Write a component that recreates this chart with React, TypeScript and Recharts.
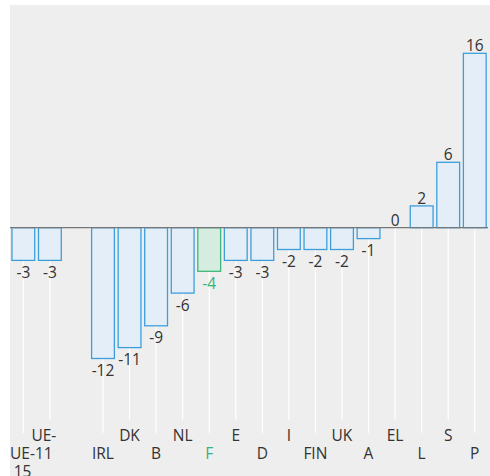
import React from "react";
import { Bar, BarChart, ReferenceLine, XAxis, YAxis } from "recharts";

const categories = ["UE-15", "UE-11", "", "IRL", "DK", "B", "NL", "F", "E", "D", "I", "FIN", "UK", "A", "EL", "L", "S", "P"];
const values = [-3, -3, null, -12, -11, -9, -6, -4, -3, -3, -2, -2, -2, -1, 0, 2, 6, 16];
const highlight = "F";

const data = categories.map((name, i) => ({ name, value: values[i] }));

const FONT = "'Open Sans', sans-serif";
const FS = 15.5;
const TEXT = "#333333";
const GREEN = "#35b47a";

// category labels alternate between two rows, the empty gap slot not counted
const named = categories.filter((c) => c !== "");
const isUpper = (name: string) => named.indexOf(name) % 2 === 1;

function BarShape(props: any) {
  const { x, y, width, height, payload, background } = props;
  if (payload == null || payload.value == null) return null;
  const top = Math.min(y, y + height);
  const bottom = Math.max(y, y + height);
  const value = payload.value;
  const zeroY = value >= 0 ? bottom : top;
  const cx = x + width / 2;
  const plotBottom = background ? background.y + background.height : bottom;
  const ext = isUpper(payload.name) ? 7 : 20;
  const hl = payload.name === highlight;
  const ty = value < 0 ? bottom + 11.5 : top - 8;
  return (
    <g>
      <line x1={cx} x2={cx} y1={zeroY} y2={plotBottom + ext} stroke="#ffffff" strokeWidth={1.2} />
      {bottom - top > 0 && (
        <rect
          x={x + 0.6}
          y={top}
          width={width - 1.2}
          height={bottom - top}
          fill={hl ? "#d5ece0" : "#e4eef9"}
          stroke={hl ? "#3cb878" : "#3c9fdc"}
          strokeWidth={1.3}
        />
      )}
      <text
        x={cx}
        y={ty}
        textAnchor="middle"
        dominantBaseline="central"
        fontFamily={FONT}
        fontSize={FS}
        fill={hl ? GREEN : TEXT}
      >
        {value}
      </text>
    </g>
  );
}

function Tick(props: any) {
  const { x, y, payload } = props;
  const label: string = payload.value;
  if (!label) return null;
  const lines = label.split(/(?<=-)/);
  const dy = isUpper(label) ? 14 : 32;
  const hl = label === highlight;
  // wrapped labels sit a little left of the slot centre, but stay inside the plot
  const tx = lines.length > 1 ? Math.max(x - 6, 12.5) : x;
  return (
    <text
      x={tx}
      y={y + dy}
      textAnchor="middle"
      dominantBaseline="central"
      fontFamily={FONT}
      fontSize={FS}
      fill={hl ? GREEN : TEXT}
    >
      {lines.map((l, i) => (
        <tspan key={i} x={tx} dy={i === 0 ? 0 : 17.5}>
          {l}
        </tspan>
      ))}
    </text>
  );
}

export default function App() {
  return (
    <div style={{ position: "absolute", left: 0, top: 0, width: 490, height: 476, background: "#ffffff" }}>
      <style>{"body{margin:0}"}</style>
      <div style={{ position: "absolute", left: 10, top: 5, width: 480, height: 471, background: "#eeeeee", overflow: "hidden" }}>
        <BarChart
          width={480}
          height={471}
          data={data}
          margin={{ top: 15.6, right: 2, left: 0, bottom: 0 }}
          barCategoryGap="5%"
        >
          <XAxis
            dataKey="name"
            interval={0}
            height={63}
            axisLine={false}
            tickLine={false}
            tick={<Tick />}
          />
          <YAxis hide domain={[-17, 19]} />
          <Bar dataKey="value" shape={<BarShape />} isAnimationActive={false} />
          <ReferenceLine y={0} stroke="#777777" strokeWidth={1.3} />
        </BarChart>
      </div>
    </div>
  );
}
